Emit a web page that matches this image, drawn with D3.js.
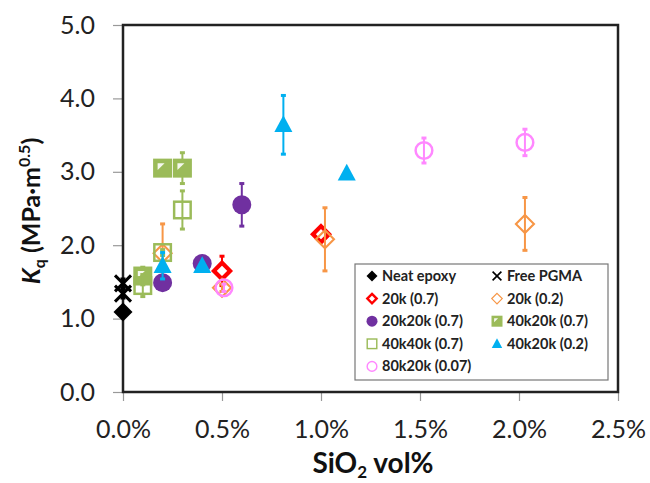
<!DOCTYPE html>
<html>
<head>
<meta charset="utf-8">
<script src="https://cdn.jsdelivr.net/npm/d3@7"></script>
<style>
  body { margin: 0; background: #fff; }
  svg { font-family: Lato, "Open Sans", sans-serif; }
</style>
</head>
<body>
<div id="chart"></div>
<script>
// values (x in vol%, y in MPa·m^0.5, err = half length of bar)
var neatX = [0],               neatY = [1.09],               neatErr = [0];
var pgmaX = [0, 0],            pgmaY = [1.48, 1.34],         pgmaErr = [0.06, 0.06];
var k20hX = [0.5, 1.0],        k20hY = [1.65, 2.15],         k20hErr = [0.2, 0.08];
var k20lX = [0.2, 0.5, 1.02, 2.03], k20lY = [1.89, 1.42, 2.08, 2.29], k20lErr = [0.4, 0.05, 0.43, 0.36];
var k2020X = [0.2, 0.4, 0.6],  k2020Y = [1.49, 1.75, 2.55], k2020Err = [0.05, 0.05, 0.29];
var k4020hX = [0.1, 0.2, 0.3], k4020hY = [1.58, 3.05, 3.05], k4020hErr = [0.12, 0.04, 0.21];
var k4040X = [0.1, 0.2, 0.3],  k4040Y = [1.45, 1.90, 2.48], k4040Err = [0.15, 0.04, 0.26];
var k4020lX = [0.2, 0.4, 0.81, 1.13], k4020lY = [1.72, 1.72, 3.64, 2.98], k4020lErr = [0.18, 0.04, 0.40, 0.03];
var k8020X = [0.51, 1.52, 2.03], k8020Y = [1.42, 3.29, 3.40], k8020Err = [0.05, 0.17, 0.18];

var xTicks = [0, 0.5, 1.0, 1.5, 2.0, 2.5];
var yTicks = [0, 1, 2, 3, 4, 5];

var series = [
  { name: 'Neat epoxy',     x: neatX,   y: neatY,   err: neatErr,   shape: 'diamondFill', color: '#000000' },
  { name: 'Free PGMA',      x: pgmaX,   y: pgmaY,   err: pgmaErr,   shape: 'cross',       color: '#000000' },
  { name: '20k (0.7)',      x: k20hX,   y: k20hY,   err: k20hErr,   shape: 'diamondThick',color: '#ff0000' },
  { name: '20k (0.2)',      x: k20lX,   y: k20lY,   err: k20lErr,   shape: 'diamondOpen', color: '#f79646' },
  { name: '20k20k (0.7)',   x: k2020X,  y: k2020Y,  err: k2020Err,  shape: 'circleFill',  color: '#7030a0' },
  { name: '40k20k (0.7)',   x: k4020hX, y: k4020hY, err: k4020hErr, shape: 'squareHalf',  color: '#9bbb59' },
  { name: '40k40k (0.7)',   x: k4040X,  y: k4040Y,  err: k4040Err,  shape: 'squareOpen',  color: '#9bbb59' },
  { name: '40k20k (0.2)',   x: k4020lX, y: k4020lY, err: k4020lErr, shape: 'triangle',    color: '#00b0f0' },
  { name: '80k20k (0.07)',  x: k8020X,  y: k8020Y,  err: k8020Err,  shape: 'circleOpen',  color: '#ff88ff' }
];

var W = 650, H = 483;
var m = { left: 123, top: 25, right: 32, bottom: 91 };
var pw = W - m.left - m.right, ph = H - m.top - m.bottom;

var svg = d3.select('#chart').append('svg').attr('width', W).attr('height', H);
var g = svg.append('g').attr('transform', 'translate(' + m.left + ',' + m.top + ')');

var x = d3.scaleLinear().domain([0, 2.5]).range([0, pw]);
var y = d3.scaleLinear().domain([0, 5]).range([ph, 0]);

// axes
var xa = g.append('g').attr('transform', 'translate(0,' + ph + ')')
  .call(d3.axisBottom(x).tickValues(xTicks).tickSize(9).tickPadding(19)
    .tickFormat(function(d) { return d.toFixed(1) + '%'; }));
var ya = g.append('g')
  .call(d3.axisLeft(y).tickValues(yTicks).tickSize(10).tickPadding(18)
    .tickFormat(d3.format('.1f')));
[xa, ya].forEach(function(a) {
  a.select('.domain').remove();
  a.selectAll('line').attr('stroke', '#999').attr('stroke-width', 1.2);
  a.selectAll('text').attr('font-size', 25).attr('fill', '#222').attr('font-family', 'Lato');
});

g.append('rect').attr('width', pw).attr('height', ph)
  .attr('fill', 'none').attr('stroke', '#222').attr('stroke-width', 2.5);

function marker(sel, shape, s, color) {
  var h = s / 2;
  if (shape === 'diamondFill') {
    sel.append('path').attr('d', 'M0,' + -h + 'L' + h + ',0L0,' + h + 'L' + -h + ',0Z').attr('fill', color);
  } else if (shape === 'diamondThick') {
    var k = h * 0.85;
    sel.append('path').attr('d', 'M0,' + -k + 'L' + k + ',0L0,' + k + 'L' + -k + ',0Z')
      .attr('fill', '#fff').attr('stroke', color).attr('stroke-width', s * 0.22);
  } else if (shape === 'diamondOpen') {
    var k2 = h * 0.95;
    sel.append('path').attr('d', 'M0,' + -k2 + 'L' + k2 + ',0L0,' + k2 + 'L' + -k2 + ',0Z')
      .attr('fill', 'none').attr('stroke', color).attr('stroke-width', s * 0.11);
  } else if (shape === 'cross') {
    var c = h * 0.8;
    sel.append('path').attr('d', 'M' + -c + ',' + -c + 'L' + c + ',' + c + 'M' + c + ',' + -c + 'L' + -c + ',' + c)
      .attr('stroke', color).attr('stroke-width', s * 0.15).attr('fill', 'none');
  } else if (shape === 'circleFill') {
    sel.append('circle').attr('r', h).attr('fill', color);
  } else if (shape === 'circleOpen') {
    sel.append('circle').attr('r', h * 0.88).attr('fill', 'none').attr('stroke', color).attr('stroke-width', s * 0.13);
  } else if (shape === 'squareOpen') {
    var q = h * 0.87;
    sel.append('rect').attr('x', -q).attr('y', -q).attr('width', 2 * q).attr('height', 2 * q)
      .attr('fill', 'none').attr('stroke', color).attr('stroke-width', s * 0.13);
  } else if (shape === 'squareHalf') {
    var q2 = h * 0.87;
    sel.append('rect').attr('x', -q2).attr('y', -q2).attr('width', 2 * q2).attr('height', 2 * q2)
      .attr('fill', color).attr('stroke', color).attr('stroke-width', s * 0.13);
    var t = q2 * 0.6;
    sel.append('path').attr('d', 'M' + -t + ',' + -t + 'L' + t * 0.4 + ',' + -t + 'L' + -t + ',' + t * 0.4 + 'Z')
      .attr('fill', '#fff').attr('opacity', 0.9);
  } else if (shape === 'triangle') {
    var tr = h * 1.0;
    sel.append('path').attr('d', 'M0,' + -tr + 'L' + tr * 0.95 + ',' + tr * 0.75 + 'L' + -tr * 0.95 + ',' + tr * 0.75 + 'Z')
      .attr('fill', color);
  }
}

// series: error bars then markers
series.forEach(function(s) {
  var sg = g.append('g');
  s.x.forEach(function(xv, i) {
    var cx = x(xv), cy = y(s.y[i]), e = s.err[i];
    if (e > 0) {
      var eb = sg.append('g').attr('stroke', s.color).attr('stroke-width', 2);
      eb.append('line').attr('x1', cx).attr('x2', cx).attr('y1', y(s.y[i] + e)).attr('y2', y(s.y[i] - e));
      [s.y[i] + e, s.y[i] - e].forEach(function(v) {
        eb.append('line').attr('x1', cx - 2.5).attr('x2', cx + 2.5).attr('y1', y(v)).attr('y2', y(v)).attr('stroke-width', 3);
      });
    }
    var sz = s.shape === 'cross' ? 20 : 19;
    marker(sg.append('g').attr('transform', 'translate(' + cx + ',' + cy + ')'), s.shape, sz, s.color);
  });
});

// axis titles
var xt = svg.append('text').attr('x', 373).attr('y', 473).attr('text-anchor', 'middle')
  .attr('font-size', 28).attr('font-weight', 'bold').attr('fill', '#111');
xt.append('tspan').text('SiO');
xt.append('tspan').text('2').attr('font-size', 17).attr('dy', 5);
xt.append('tspan').text(' vol%').attr('dy', -5);

var yt = svg.append('text').attr('transform', 'translate(40,211) rotate(-90)').attr('text-anchor', 'middle')
  .attr('font-size', 25).attr('font-weight', 'bold').attr('fill', '#111');
yt.append('tspan').text('K').attr('font-style', 'italic');
yt.append('tspan').text('q').attr('font-size', 16).attr('dy', 5);
yt.append('tspan').text(' (MPa·m').attr('dy', -5);
yt.append('tspan').text('0.5').attr('font-size', 16).attr('dy', -10);
yt.append('tspan').text(')').attr('dy', 10);

// legend
var lg = svg.append('g');
lg.append('rect').attr('x', 355).attr('y', 264).attr('width', 253).attr('height', 116)
  .attr('fill', '#fff').attr('stroke', '#777').attr('stroke-width', 1.2);
var colX = [372, 497], rowY0 = 276, rowH = 22.6;
series.forEach(function(s, i) {
  var cx = colX[i % 2], cy = rowY0 + Math.floor(i / 2) * rowH;
  marker(lg.append('g').attr('transform', 'translate(' + cx + ',' + cy + ')'), s.shape, 11, s.color);
  lg.append('text').attr('x', cx + 10).attr('y', cy + 5).text(s.name)
    .attr('font-size', 14.5).attr('font-weight', 'bold').attr('fill', '#222');
});
</script>
</body>
</html>
